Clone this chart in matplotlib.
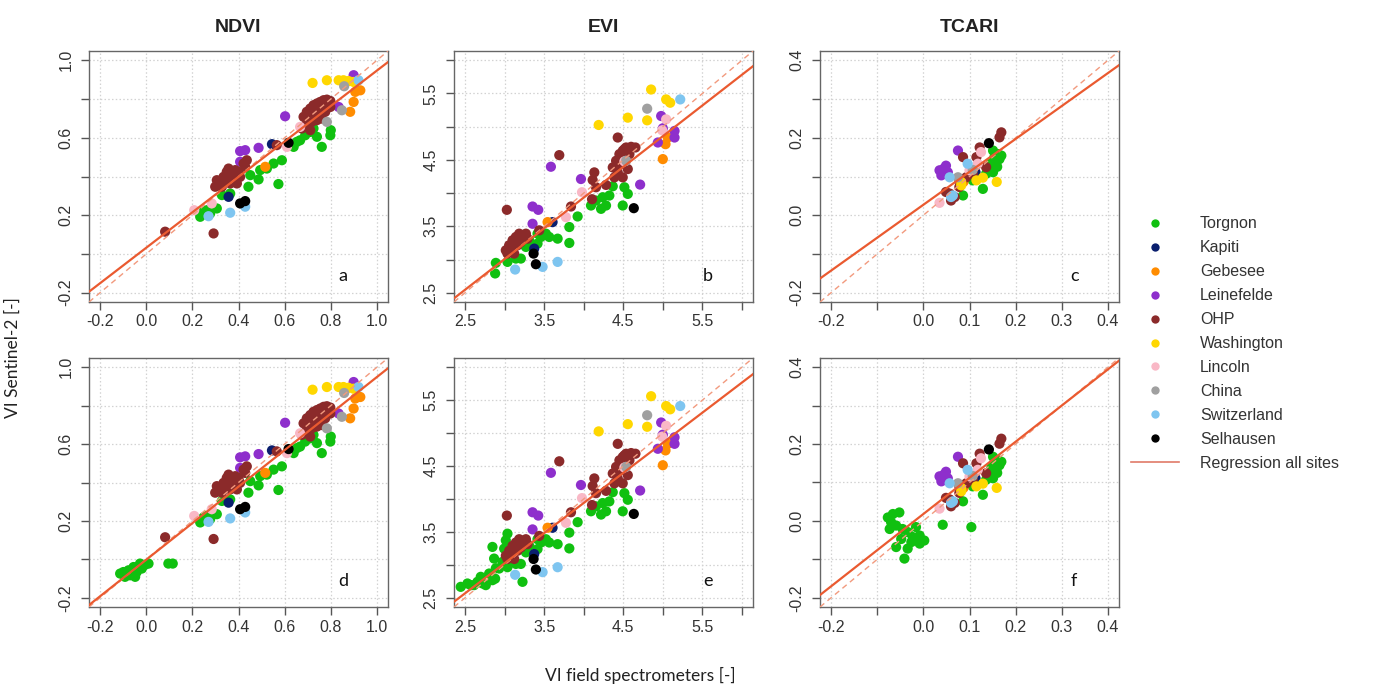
import numpy as np
import matplotlib
matplotlib.use("Agg")
import matplotlib.pyplot as plt
from matplotlib.lines import Line2D

sites = ["Torgnon", "Kapiti", "Gebesee", "Leinefelde", "OHP", "Washington",
         "Lincoln", "China", "Switzerland", "Selhausen"]
site_colors = ["#10C010", "#0A1F6E", "#FF8C00", "#8E2FCC", "#8B2A2A", "#FFD700",
               "#F9B8C6", "#A0A0A0", "#7EC5F0", "#000000"]

# NDVI: field spectrometer (x) vs Sentinel-2 (y), per site
ndvi = {
    "Torgnon": ([0.234, 0.263, 0.306, 0.328, 0.364, 0.443, 0.451, 0.487, 0.494, 0.523, 0.552, 0.573, 0.588,
                 0.639, 0.653, 0.667, 0.689, 0.711, 0.725, 0.740, 0.761, 0.798, 0.800, 0.248, 0.277],
                [0.192, 0.226, 0.235, 0.304, 0.312, 0.347, 0.407, 0.385, 0.433, 0.441, 0.467, 0.361, 0.484,
                 0.553, 0.579, 0.587, 0.613, 0.630, 0.648, 0.605, 0.553, 0.613, 0.639, 0.218, 0.209]),
    "Kapiti": ([0.545, 0.357], [0.567, 0.295]),
    "Gebesee": ([0.928, 0.906, 0.899, 0.884, 0.516], [0.845, 0.837, 0.785, 0.734, 0.450]),
    "Leinefelde": ([0.899, 0.834, 0.602, 0.407, 0.429, 0.487, 0.407],
                   [0.923, 0.759, 0.711, 0.531, 0.536, 0.548, 0.476]),
    "OHP": ([0.682, 0.696, 0.711, 0.725, 0.740, 0.754, 0.769, 0.783, 0.798, 0.732, 0.747, 0.761, 0.776,
             0.790, 0.725, 0.754, 0.776, 0.696, 0.718, 0.740, 0.761, 0.798, 0.675, 0.711,
             0.299, 0.320, 0.335, 0.349, 0.357, 0.371, 0.386, 0.400, 0.328, 0.349, 0.378, 0.407, 0.422,
             0.436, 0.429, 0.306, 0.364, 0.393, 0.082, 0.292, 0.566],
            [0.708, 0.734, 0.751, 0.768, 0.777, 0.785, 0.794, 0.797, 0.790, 0.742, 0.751, 0.759, 0.768,
             0.768, 0.716, 0.716, 0.734, 0.673, 0.682, 0.691, 0.699, 0.759, 0.648, 0.639,
             0.347, 0.373, 0.398, 0.424, 0.441, 0.415, 0.433, 0.424, 0.347, 0.381, 0.381, 0.398, 0.467,
             0.484, 0.450, 0.381, 0.364, 0.364, 0.115, 0.106, 0.562]),
    "Washington": ([0.721, 0.783, 0.834, 0.855, 0.877, 0.899], [0.883, 0.897, 0.897, 0.897, 0.893, 0.888]),
    "Lincoln": ([0.667, 0.284, 0.208, 0.610], [0.656, 0.261, 0.226, 0.553]),
    "China": ([0.858, 0.783, 0.848], [0.866, 0.682, 0.742]),
    "Switzerland": ([0.920, 0.364, 0.270, 0.429], [0.897, 0.213, 0.195, 0.244]),
    "Selhausen": ([0.617, 0.407, 0.429], [0.574, 0.261, 0.273]),
}
# extra low-value Torgnon acquisitions shown in the lower row
ndvi_torgnon_extra = ([-0.113, -0.092, -0.077, -0.070, -0.055, -0.041, -0.027, -0.019, -0.005, 0.010,
                       -0.099, -0.048, 0.096, 0.115, -0.084],
                      [-0.074, -0.091, -0.057, -0.083, -0.040, -0.066, -0.022, -0.048, -0.028, -0.022,
                       -0.066, -0.091, -0.022, -0.022, -0.083])

evi = {
    "Torgnon": ([2.889, 2.880, 3.036, 3.142, 3.269, 3.416, 3.522, 3.670, 3.818, 3.818, 3.923, 4.092, 4.219,
                 4.240, 4.324, 4.367, 4.493, 4.557, 4.514, 3.416, 3.311, 3.564, 4.282, 4.155, 3.459, 3.205],
                [2.949, 2.790, 2.964, 3.014, 3.189, 3.239, 3.389, 3.314, 3.489, 3.249, 3.648, 3.813, 3.763,
                 3.938, 3.963, 4.103, 3.813, 3.988, 4.088, 3.389, 3.289, 3.339, 3.813, 3.888, 3.339, 3.014]),
    "Kapiti": ([3.606, 3.374], [3.563, 3.164]),
    "Gebesee": ([5.000, 5.034, 5.063, 3.543], [4.512, 4.737, 4.837, 3.563]),
    "Leinefelde": ([4.979, 5.000, 5.148, 5.148, 4.937, 3.585, 3.965, 4.713, 3.353, 3.425, 3.353],
                   [5.161, 4.976, 4.936, 4.837, 4.762, 4.397, 4.212, 4.128, 3.798, 3.748, 3.538]),
    "OHP": ([3.028, 3.691, 4.113, 4.105, 4.282, 4.430, 3.839, 3.438, 4.134, 4.155,
             4.367, 4.409, 4.451, 4.493, 4.536, 4.599, 4.654, 4.472, 4.514, 4.578, 4.430, 4.493, 4.557,
             4.388, 4.514,
             3.015, 3.057, 3.100, 3.142, 3.184, 3.226, 3.269, 3.079, 3.163, 3.205, 3.121, 3.290, 3.036],
            [3.748, 4.572, 4.197, 3.908, 4.123, 4.837, 3.798, 3.439, 4.312, 4.088,
             4.387, 4.487, 4.587, 4.637, 4.687, 4.697, 4.687, 4.437, 4.512, 4.587, 4.312, 4.237, 4.362,
             4.237, 4.662,
             3.139, 3.214, 3.289, 3.339, 3.389, 3.364, 3.389, 3.139, 3.214, 3.264, 3.089, 3.314, 3.089]),
    "Washington": ([4.852, 4.557, 4.802, 4.189, 5.042, 5.093], [5.560, 5.136, 5.096, 5.026, 5.411, 5.361]),
    "Lincoln": ([5.042, 4.992, 3.978, 3.775, 4.514], [5.111, 4.946, 4.013, 3.638, 4.477]),
    "China": ([4.802, 4.536], [5.271, 4.487]),
    "Switzerland": ([5.220, 3.133, 3.480, 3.670], [5.411, 2.849, 2.889, 2.964]),
    "Selhausen": ([4.633, 3.366, 3.395], [3.773, 3.089, 2.929]),
}
evi_torgnon_extra = ([2.445, 2.530, 2.614, 2.698, 2.762, 2.846, 2.846, 2.867, 2.931, 2.994, 3.015, 3.036,
                      2.804, 2.656, 3.226, 2.973, 3.057, 2.720, 2.572],
                     [2.666, 2.717, 2.692, 2.818, 2.692, 2.767, 3.272, 3.095, 2.944, 3.246, 3.372, 3.473,
                      2.868, 2.742, 2.742, 3.045, 3.045, 2.717, 2.692])

tcari = {
    "Torgnon": ([0.151, 0.143, 0.165, 0.158, 0.129, 0.086, 0.151, 0.169, 0.154, 0.147, 0.162, 0.136, 0.107,
                 0.160, 0.150],
                [0.167, 0.124, 0.145, 0.133, 0.068, 0.051, 0.111, 0.154, 0.150, 0.137, 0.158, 0.107, 0.090,
                 0.125, 0.140]),
    "Kapiti": ([0.113], [0.111]),
    "Gebesee": ([0.087], [0.086]),
    "Leinefelde": ([0.035, 0.049, 0.053, 0.075, 0.039, 0.044], [0.116, 0.128, 0.111, 0.167, 0.103, 0.120]),
    "OHP": ([0.169, 0.165, 0.122, 0.060, 0.049, 0.086, 0.078, 0.115, 0.068, 0.093, 0.057, 0.107, 0.136, 0.078],
            [0.214, 0.201, 0.175, 0.038, 0.060, 0.150, 0.090, 0.150, 0.047, 0.098, 0.056, 0.107, 0.124, 0.073]),
    "Washington": ([0.082, 0.115, 0.129, 0.159, 0.082], [0.077, 0.090, 0.097, 0.086, 0.086]),
    "Lincoln": ([0.035, 0.125, 0.100, 0.118], [0.032, 0.163, 0.116, 0.133]),
    "China": ([0.107, 0.075], [0.117, 0.098]),
    "Switzerland": ([0.064, 0.057, 0.096, 0.060], [0.051, 0.098, 0.133, 0.047]),
    "Selhausen": ([0.142], [0.186]),
}
tcari_torgnon_extra = ([-0.077, -0.066, -0.052, -0.070, -0.059, -0.045, -0.034, -0.023, -0.008, 0.002,
                        -0.059, -0.034, -0.041, -0.008, 0.042, 0.104, -0.016, -0.073, -0.048, -0.026],
                       [0.009, 0.018, 0.022, -0.003, -0.012, -0.021, -0.029, -0.042, -0.038, -0.051,
                        -0.068, -0.072, -0.098, -0.059, -0.010, -0.016, -0.016, -0.021, -0.047, -0.055])

# regression (slope, intercept) over all sites, top row then bottom row
reg_top = [(0.915, 0.032), (0.925, 0.232), (0.850, 0.027)]
reg_bottom = [(0.951, -0.002), (0.914, 0.283), (0.941, 0.018)]

titles = ["NDVI", "EVI", "TCARI"]
ticks = [np.round(np.arange(-0.2, 1.01, 0.2), 1),
         np.arange(2.5, 6.01, 0.5),
         np.round(np.arange(-0.2, 0.41, 0.1), 1)]
xlabels_shown = [["-0.2", "0.0", "0.2", "0.4", "0.6", "0.8", "1.0"],
                 ["2.5", "", "3.5", "", "4.5", "", "5.5", ""],
                 ["-0.2", "", "0.0", "0.1", "0.2", "0.3", "0.4"]]
ylabels_shown = [["-0.2", "", "0.2", "", "0.6", "", "1.0"],
                 ["2.5", "", "3.5", "", "4.5", "", "5.5", ""],
                 ["-0.2", "", "0.0", "", "0.2", "", "0.4"]]
letters = [["a", "b", "c"], ["d", "e", "f"]]

plt.rcParams["font.family"] = ["Liberation Sans", "DejaVu Sans"]
fig = plt.figure(figsize=(13.75, 6.87), dpi=100)

lefts = [89 / 1375, 454 / 1375, 820 / 1375]
bottoms = [1 - 302 / 687, 1 - 607 / 687]
w = 299 / 1375
heights = [251 / 687, 249 / 687]

datasets = [ndvi, evi, tcari]
extras = [ndvi_torgnon_extra, evi_torgnon_extra, tcari_torgnon_extra]

for row in range(2):
    for col in range(3):
        ax = fig.add_axes([lefts[col], bottoms[row], w, heights[row]])
        t = ticks[col]
        lo, hi = t[0], t[-1]
        pad = 0.04 * (hi - lo)
        ax.set_xlim(lo - pad, hi + pad)
        ax.set_ylim(lo - pad, hi + pad)
        ax.set_xticks(t)
        ax.set_yticks(t)
        ax.set_xticklabels(xlabels_shown[col])
        ax.set_yticklabels(ylabels_shown[col], rotation=90, va="center")
        ax.tick_params(length=6, width=1, color="#555555", labelcolor="#333333", labelsize=11.5)
        ax.tick_params(axis="x", pad=3)
        ax.tick_params(axis="y", pad=5)
        for s in ax.spines.values():
            s.set_color("#666666")
            s.set_linewidth(1.0)
        ax.grid(True, color="#D2D2D2", linestyle=(0, (1.2, 1.8)), linewidth=0.9)
        ax.set_axisbelow(True)

        d = datasets[col]
        for name, c in zip(sites, site_colors):
            xs, ys = d[name]
            if row == 1 and name == "Torgnon":
                xs = list(xs) + list(extras[col][0])
                ys = list(ys) + list(extras[col][1])
            ax.scatter(xs, ys, s=54, color=c, edgecolors="none", zorder=3)

        slope, icpt = (reg_top if row == 0 else reg_bottom)[col]
        ax.axline((0, 0), slope=1, color="#F29A7E", linestyle=(0, (4, 3)), linewidth=1.0, zorder=4)
        ax.axline((0, icpt), slope=slope, color="#EA5A30", linewidth=1.6, zorder=5)

        ax.text(0.85, 0.105, letters[row][col], transform=ax.transAxes, fontsize=13,
                family=["Lato", "DejaVu Sans"], ha="center", va="center", color="#111111")
        if row == 0:
            ax.set_title(titles[col], fontsize=14, fontweight="bold", pad=14, color="#222222")

fig.text(0.009, 0.48, "VI Sentinel-2 [-]", rotation=90, ha="center", va="center", fontsize=12.5,
         family=["Lato", "DejaVu Sans"], color="#222222")
fig.text(0.466, 0.017, "VI field spectrometers [-]", ha="center", va="center", fontsize=12.5,
         family=["Lato", "DejaVu Sans"], color="#222222")

handles = [Line2D([], [], marker="o", linestyle="none", markersize=6, markerfacecolor=c,
                  markeredgecolor="none") for c in site_colors]
handles.append(Line2D([], [], color="#E07A68", linewidth=1.2))
fig.legend(handles, sites + ["Regression all sites"], loc="upper left",
           bbox_to_anchor=(1117 / 1375, 1 - 202 / 687), frameon=False, fontsize=11.5,
           labelspacing=0.56, handlelength=3.0, handletextpad=1.3, labelcolor="#333333")

fig.savefig("out.png", dpi=100)
